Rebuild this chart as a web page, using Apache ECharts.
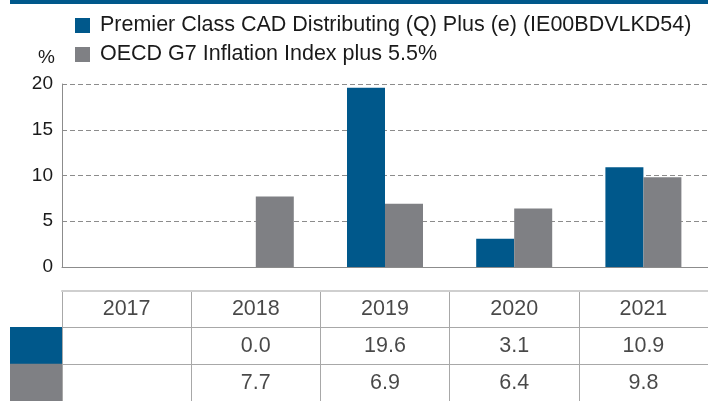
<!DOCTYPE html>
<html>
<head>
<meta charset="utf-8">
<script src="https://cdn.jsdelivr.net/npm/echarts@6/dist/echarts.min.js"></script>
<style>
  html, body { margin: 0; padding: 0; background: #fff; }
  #chart { width: 708px; height: 401px; }
</style>
</head>
<body>
<div id="chart"></div>
<script>
var chart = echarts.init(document.getElementById('chart'));

// data
var years = ['2017', '2018', '2019', '2020', '2021'];
var fundName = 'Premier Class CAD Distributing (Q) Plus (e) (IE00BDVLKD54)';
var benchName = 'OECD G7 Inflation Index plus 5.5%';
var fundValues = [null, 0.0, 19.6, 3.1, 10.9];
var benchValues = [null, 7.7, 6.9, 6.4, 9.8];

var BLUE = '#00588b';
var GREY = '#7f8084';
var FONT = 'Liberation Sans';
var TXT = '#1a1a1a';

// rows of the table underneath
var tableRows = ['head', 'fund', 'bench'];
var tableText = [];
years.forEach(function (y, i) {
    tableText.push([y, 'head', y]);
    if (fundValues[i] !== null) tableText.push([y, 'fund', fundValues[i].toFixed(1)]);
    if (benchValues[i] !== null) tableText.push([y, 'bench', benchValues[i].toFixed(1)]);
});

var option = {
    animation: false,
    textStyle: { fontFamily: FONT },
    graphic: [{
        type: 'rect',
        shape: { x: 10, y: 0, width: 698, height: 4 },
        style: { fill: BLUE }
    }],
    legend: {
        orient: 'vertical',
        left: 75,
        top: 14.5,
        padding: 0,
        itemWidth: 15,
        itemHeight: 15,
        itemGap: 7,
        icon: 'rect',
        textStyle: { fontSize: 21.5, lineHeight: 22, color: TXT, fontFamily: FONT, padding: [0, 0, 0, 5] },
        data: [fundName, benchName]
    },
    // the plot runs a few pixels past the right edge of the canvas
    grid: [
        { left: 62, width: 650, top: 84, height: 183 },
        { left: 62, width: 650, top: 291, height: 114 }
    ],
    xAxis: [{
        type: 'category',
        gridIndex: 0,
        data: years,
        axisLine: { lineStyle: { color: '#8c8c8c', width: 1 } },
        axisTick: { show: false },
        axisLabel: { show: false }
    }, {
        type: 'category',
        gridIndex: 1,
        position: 'top',
        data: years,
        axisLine: { lineStyle: { color: '#cfcfcf', width: 2 } },
        axisTick: { show: false },
        axisLabel: { show: false },
        splitLine: { show: true, lineStyle: { color: '#a8a8a8', width: 1 } }
    }],
    yAxis: [{
        type: 'value',
        gridIndex: 0,
        min: 0,
        max: 20,
        interval: 5,
        name: '%',
        nameLocation: 'end',
        nameGap: 26,
        nameTextStyle: { fontSize: 19, color: TXT, align: 'right', verticalAlign: 'middle', padding: [0, 7, 0, 0] },
        axisLine: { show: true, lineStyle: { color: '#8c8c8c' } },
        axisTick: { show: false },
        axisLabel: { fontSize: 19, color: TXT, margin: 9, padding: [3, 0, 0, 0] },
        splitLine: { show: true, lineStyle: { color: '#8c8c8c', type: [5, 3] } }
    }, {
        type: 'category',
        gridIndex: 1,
        inverse: true,
        data: tableRows,
        axisLine: { show: false },
        axisTick: { show: false },
        splitLine: { show: true, lineStyle: { color: '#a8a8a8', width: 1 } },
        axisLabel: {
            margin: 0,
            interval: 0,
            formatter: function (v) {
                if (v === 'fund') return '{a| }';
                if (v === 'bench') return '{b| }';
                return '';
            },
            rich: {
                a: { backgroundColor: BLUE, width: 52, height: 38 },
                b: { backgroundColor: GREY, width: 52, height: 38 }
            }
        }
    }],
    series: [{
        name: fundName,
        type: 'bar',
        xAxisIndex: 0,
        yAxisIndex: 0,
        barWidth: 38,
        barGap: 0,
        itemStyle: { color: BLUE },
        data: fundValues
    }, {
        name: benchName,
        type: 'bar',
        xAxisIndex: 0,
        yAxisIndex: 0,
        barWidth: 38,
        barGap: 0,
        itemStyle: { color: GREY },
        data: benchValues
    }, {
        type: 'scatter',
        xAxisIndex: 1,
        yAxisIndex: 1,
        symbolSize: 0,
        silent: true,
        label: {
            show: true,
            position: 'inside',
            fontSize: 21.5,
            color: TXT,
            fontFamily: FONT,
            padding: [3, 0, 0, 0],
            formatter: function (p) { return p.value[2]; }
        },
        data: tableText
    }]
};
chart.setOption(option);
</script>
</body>
</html>
